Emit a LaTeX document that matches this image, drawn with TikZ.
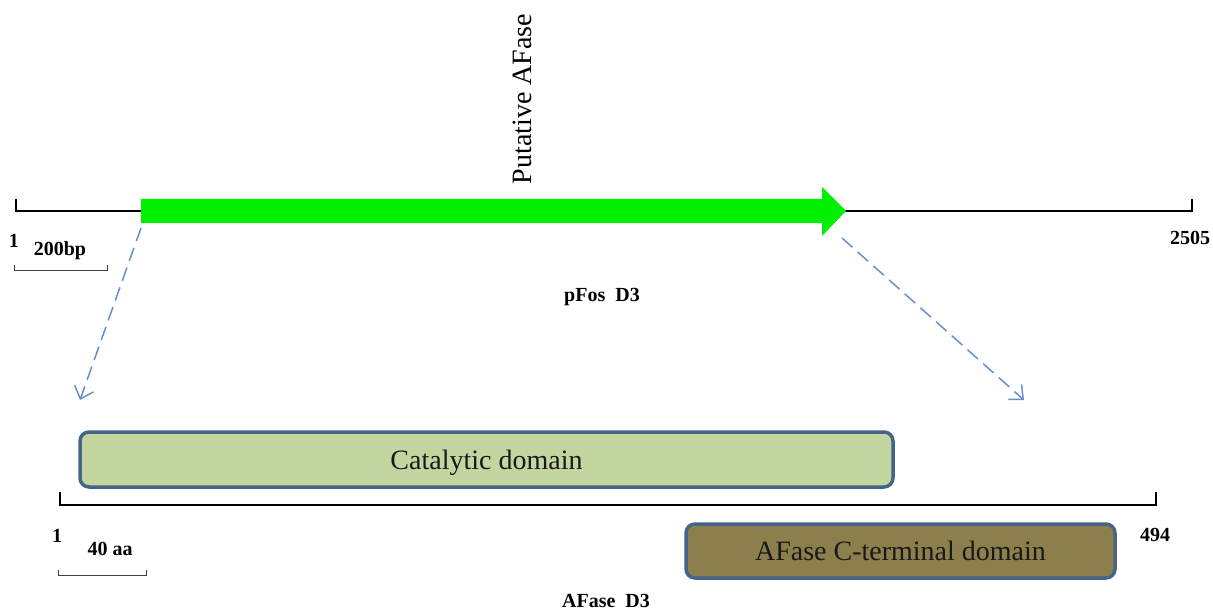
\documentclass[tikz,border=0pt]{standalone}
\usepackage{fontspec}
\setmainfont{Liberation Serif}
\usetikzlibrary{arrows.meta}
\definecolor{genegreen}{RGB}{0,240,0}
\definecolor{catfill}{RGB}{196,214,160}
\definecolor{ctfill}{RGB}{140,127,76}
\definecolor{boxedge}{RGB}{70,100,138}
\definecolor{dashblue}{RGB}{100,145,205}
\tikzset{
  seqline/.style={line width=2.8pt, black},
  scalebar/.style={line width=0.8pt, black!75},
  lbl/.style={font=\fontsize{20}{20}\selectfont\bfseries, inner sep=0pt},
  domainbox/.style={draw=boxedge, line width=3.5pt, rounded corners=9pt, inner sep=0pt,
    font=\fontsize{28}{28}\selectfont, text=black!90, text depth=0pt},
  zoomarrow/.style={dashblue, line width=1.5pt, dash pattern=on 14pt off 7pt,
    -{Straight Barb[length=11pt,width=20pt,line width=1.5pt]}}
}
\begin{document}
\begin{tikzpicture}[x=1pt,y=-1pt]
\useasboundingbox (0,0) rectangle (1213,612);
% top sequence line
\coordinate (tl) at (16,211);
\coordinate (tr) at (1192,211);
\draw[seqline] (16,199) -- (tl) -- (tr) -- (1192,199);
% green gene arrow
\fill[genegreen] (141,199) -- (822,199) -- (822,187) -- (846,211) -- (822,236) -- (822,223) -- (141,223) -- cycle;
\coordinate (gstart) at (141,228);
\coordinate (gend) at (842,238);
\node[rotate=90, font=\fontsize{28}{28}\selectfont, inner sep=0pt] (put) at (522,99) {Putative AFase};
% top labels
\node[lbl] (one1) at (14,241) {1};
\node[lbl] (bp) at (60,251) {200bp};
\node[lbl] (n2505) at (1190,238) {2505};
\node[lbl] (pfos) at (602,297) {pFos\ \ D3};
\draw[scalebar] (14,265) -- (14,270) -- (107,270) -- (107,265);
% dashed zoom arrows
\coordinate (la) at (80,400);
\coordinate (ra) at (1024,400);
\draw[zoomarrow] (gstart) -- (la);
\draw[zoomarrow] (gend) -- (ra);
% domains
\node[domainbox, fill=catfill, minimum width=813pt, minimum height=55pt] (cat) at (486.5,459.5) {Catalytic domain};
\node[domainbox, fill=ctfill, minimum width=429pt, minimum height=54pt] (cterm) at (900.5,551) {AFase C-terminal domain};
% bottom protein line
\draw[seqline] (60,492) -- (60,505) -- (1156,505) -- (1156,492);
\node[lbl] (one2) at (57,536) {1};
\node[lbl] (aa) at (110,549) {40 aa};
\node[lbl] (n494) at (1155,535) {494};
\node[lbl] (afd3) at (606,601) {AFase\ \ D3};
\draw[scalebar] (58,570) -- (58,575) -- (146,575) -- (146,570);
\end{tikzpicture}
\end{document}
